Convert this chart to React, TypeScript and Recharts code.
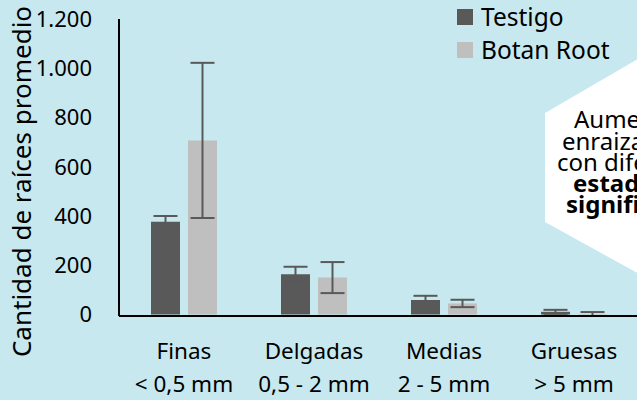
import React from 'react';
import { BarChart, Bar, XAxis, YAxis, ErrorBar, Legend } from 'recharts';

const categories = ['Finas', 'Delgadas', 'Medias', 'Gruesas'];
const ranges = ['< 0,5 mm', '0,5 - 2 mm', '2 - 5 mm', '> 5 mm'];
const seriesNames = ['Testigo', 'Botan Root'];
const testigo = [377, 164, 59, 11];
const testigoErr = [23, 30, 17, 8];
const botanRoot = [707, 150, 45, 2];
const botanRootErr = [315, 63, 15, 8];
const yTicks = [0, 200, 400, 600, 800, 1000, 1200];

const calloutLines = [
  { text: 'Aumento del', x: 574, y: 128, bold: false },
  { text: 'enraizamiento', x: 562, y: 150, bold: false },
  { text: 'con diferencias', x: 557, y: 171, bold: false },
  { text: 'estadísticamente', x: 573, y: 192, bold: true },
  { text: 'significativas', x: 566, y: 213, bold: true },
];

const data = categories.map((name, i) => ({
  name,
  testigo: testigo[i],
  testigoErr: testigoErr[i],
  botan: botanRoot[i],
  botanErr: botanRootErr[i],
}));

const FONT = '"Noto Sans", sans-serif';
const BG = '#C7E8EE';
const DARK = '#595959';
const LIGHT = '#BFBFBF';

const fmt = (v: number) =>
  v >= 1000 ? `${Math.floor(v / 1000)}.${String(v % 1000).padStart(3, '0')}` : String(v);

const XTick = (props: any) => {
  const { x, y, payload } = props;
  const i = payload.index ?? props.index;
  return (
    <text textAnchor="middle" fontFamily={FONT} fontSize={22.5} fill="#000">
      <tspan x={x} y={y + 43}>{payload.value}</tspan>
      <tspan x={x} y={y + 76}>{ranges[i]}</tspan>
    </text>
  );
};

const YLabel = (props: any) => {
  const vb = props.viewBox;
  const cx = vb.x + 21;
  const cy = vb.y + vb.height / 2 + 14;
  return (
    <text
      x={cx}
      y={cy}
      transform={`rotate(-90, ${cx}, ${cy})`}
      textAnchor="middle"
      dominantBaseline="central"
      fontFamily={FONT}
      fontSize={26}
      fill="#000"
    >
      Cantidad de raíces promedio
    </text>
  );
};

const renderLegend = (props: any) => {
  const items = [...(props.payload || [])].sort(
    (a: any, b: any) => seriesNames.indexOf(a.value) - seriesNames.indexOf(b.value)
  );
  return (
    <div style={{ fontFamily: FONT, fontSize: 24.5, color: '#000' }}>
      {items.map((p: any) => (
        <div key={p.value} style={{ display: 'flex', alignItems: 'center', height: 33 }}>
          <span style={{ width: 16, height: 16, background: p.color, marginRight: 8, flex: 'none' }} />
          <span style={{ lineHeight: '33px', whiteSpace: 'nowrap' }}>{p.value}</span>
        </div>
      ))}
    </div>
  );
};

export default function App() {
  return (
    <div
      style={{
        position: 'fixed',
        left: 0,
        top: 0,
        width: 637,
        height: 400,
        overflow: 'hidden',
        background: BG,
      }}
    >
      <BarChart
        width={640}
        height={400}
        data={data}
        margin={{ top: 19, right: 1, left: 0, bottom: 0 }}
        barSize={29}
        barGap={8}
      >
        <XAxis
          dataKey="name"
          axisLine={{ stroke: '#000', strokeWidth: 2 }}
          tickLine={false}
          tickSize={0}
          tickMargin={0}
          height={84}
          interval={0}
          tick={<XTick />}
        />
        <YAxis
          domain={[0, 1200]}
          ticks={yTicks}
          width={119}
          axisLine={{ stroke: '#000', strokeWidth: 2 }}
          tickLine={false}
          tickSize={0}
          tickMargin={27}
          tickFormatter={fmt}
          tick={{ fill: '#000', fontSize: 22, fontFamily: FONT }}
          label={<YLabel />}
        />
        <Legend
          layout="horizontal"
          verticalAlign="middle"
          align="center"
          wrapperStyle={{ top: 0, left: 457, width: 180 }}
          content={renderLegend}
        />
        <Bar dataKey="testigo" name={seriesNames[0]} fill={DARK} isAnimationActive={false}>
          <ErrorBar dataKey="testigoErr" width={12} strokeWidth={2} stroke={DARK} />
        </Bar>
        <Bar dataKey="botan" name={seriesNames[1]} fill={LIGHT} isAnimationActive={false}>
          <ErrorBar dataKey="botanErr" width={12} strokeWidth={2} stroke={DARK} />
        </Bar>
      </BarChart>
      <svg
        width={637}
        height={400}
        style={{ position: 'absolute', left: 0, top: 0, pointerEvents: 'none' }}
      >
        <polygon points="545,113 650,52 650,280 545,222" fill="#fff" />
        {calloutLines.map((l) => (
          <text
            key={l.text}
            x={l.x}
            y={l.y}
            fontFamily={FONT}
            fontSize={24}
            fontWeight={l.bold ? 700 : 400}
            fill="#000"
          >
            {l.text}
          </text>
        ))}
      </svg>
    </div>
  );
}
